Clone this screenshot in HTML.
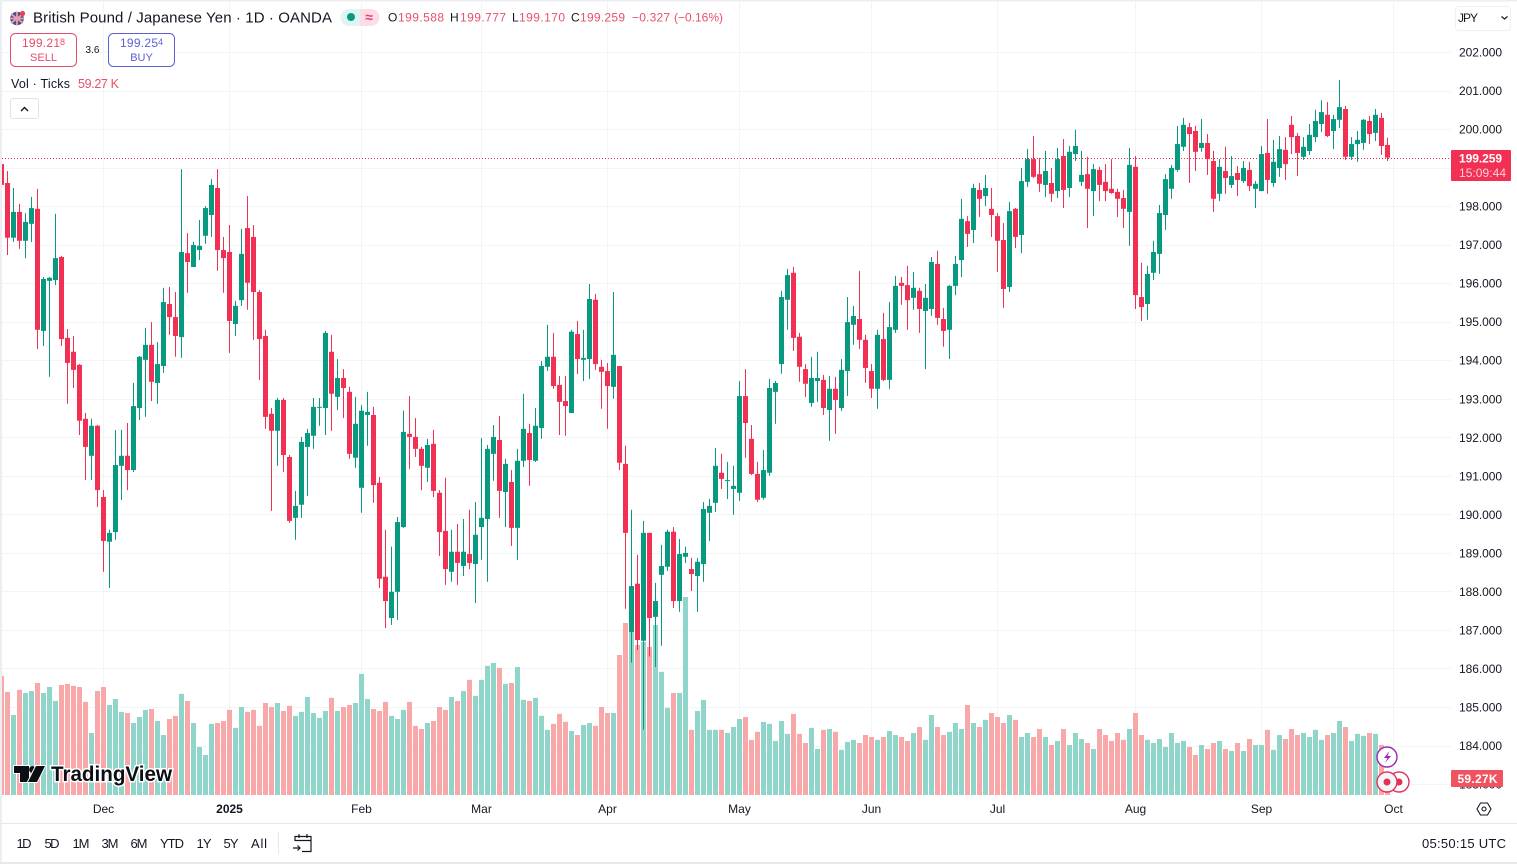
<!DOCTYPE html>
<html lang="en">
<head>
<meta charset="utf-8">
<title>GBP/JPY chart</title>
<style>
html,body{margin:0;padding:0;background:#fff;width:1517px;height:864px;overflow:hidden}
svg{display:block;font-family:"Liberation Sans",sans-serif}
text{fill:#131722}
.t12{font-size:12px}
.r{fill:#e8506c}
</style>
</head>
<body>
<svg id="chart" xmlns="http://www.w3.org/2000/svg" width="1517" height="864" viewBox="0 0 1517 864">
  <rect x="0" y="0" width="1517" height="864" fill="#ffffff"/>
  <g id="grid"></g>
  <g id="volumes"></g>
  <line x1="2" x2="1451" y1="158.5" y2="158.5" stroke="#e02c55" stroke-width="1" stroke-dasharray="1 2"/>
  <g id="candles"></g>
  <rect x="1451" y="0" width="66" height="795" fill="#ffffff"/>
  <g id="price-ticks"></g>
  <g id="time-ticks"></g>

  <g>
    <circle cx="17" cy="18.5" r="6.8" fill="#4a4f86"/>
    <path d="M11 14 L23 23 M23 14 L11 23 M17 12 V25 M10.5 18.5 H23.5" stroke="#e8a0b0" stroke-width="1.8"/>
    <circle cx="22.5" cy="13.5" r="2.6" fill="#e8405a"/>
  </g>
  <text x="33" y="22.5" font-size="15" textLength="299">British Pound / Japanese Yen · 1D · OANDA</text>
  <g>
    <path d="M349 9 H360 V26 H349 A8.5 8.5 0 0 1 349 9 Z" fill="#dff5f1"/>
    <path d="M360 9 H371 A8.5 8.5 0 0 1 371 26 H360 Z" fill="#fcdde6"/>
    <circle cx="351" cy="17" r="4" fill="#089981"/>
    <text x="369" y="22" font-size="14" font-weight="bold" text-anchor="middle" style="fill:#ee3a72">≈</text>
  </g>
  <g font-size="12">
    <text x="388" y="21.5" textLength="9">O</text>
    <text x="398" y="21.5" class="r" textLength="46">199.588</text>
    <text x="450" y="21.5" textLength="9">H</text>
    <text x="460" y="21.5" class="r" textLength="46">199.777</text>
    <text x="512" y="21.5" textLength="7">L</text>
    <text x="519" y="21.5" class="r" textLength="46">199.170</text>
    <text x="571" y="21.5" textLength="8">C</text>
    <text x="580" y="21.5" class="r" textLength="45">199.259</text>
    <text x="632" y="21.5" class="r" textLength="38">−0.327</text>
    <text x="674" y="21.5" class="r" textLength="49">(−0.16%)</text>
  </g>
  <g>
    <rect x="10.5" y="33.5" width="66" height="33" rx="5" fill="#fff" stroke="#e64c68"/>
    <text x="22" y="47" font-size="12" style="fill:#e64c68" textLength="38">199.21</text>
    <text x="60" y="45" font-size="9" style="fill:#e64c68">8</text>
    <text x="43.5" y="61" font-size="11" text-anchor="middle" style="fill:#e64c68">SELL</text>
  </g>
  <text x="92.5" y="53" font-size="10" text-anchor="middle">3.6</text>
  <g>
    <rect x="108.5" y="33.5" width="66" height="33" rx="5" fill="#fff" stroke="#5c5fd6"/>
    <text x="120" y="47" font-size="12" style="fill:#5c5fd6" textLength="38">199.25</text>
    <text x="158" y="45" font-size="9" style="fill:#5c5fd6">4</text>
    <text x="141.5" y="61" font-size="11" text-anchor="middle" style="fill:#5c5fd6">BUY</text>
  </g>
  <text x="11" y="88" font-size="12.5" textLength="59">Vol · Ticks</text>
  <text x="78" y="88" font-size="12.5" class="r" textLength="41">59.27 K</text>
  <g>
    <rect x="10.5" y="98.5" width="28" height="20" rx="2.5" fill="#fff" stroke="#e0e3eb"/>
    <path d="M21 111 L24.5 107.5 L28 111" fill="none" stroke="#131722" stroke-width="1.4"/>
  </g>
  <g>
    <rect x="1455.5" y="6.5" width="55" height="24" rx="3" fill="#fff" stroke="#eef0f3"/>
    <text x="1458" y="22" font-size="12" textLength="20">JPY</text>
    <path d="M1501.5 16.5 L1504.5 19 L1507.5 16.5" fill="none" stroke="#131722" stroke-width="1.2"/>
  </g>
  <g>
    <rect x="1451" y="150" width="60" height="31" rx="1" fill="#f23054"/>
    <text x="1480.5" y="162.5" font-size="12" font-weight="bold" text-anchor="middle" style="fill:#fff" textLength="43">199.259</text>
    <text x="1482.5" y="177" font-size="12" text-anchor="middle" style="fill:#fbd0d8" textLength="47">15:09:44</text>
  </g>
  <g>
    <rect x="1451" y="770" width="52" height="17" rx="1" fill="#f0535f"/>
    <text x="1477.5" y="783" font-size="12" font-weight="bold" text-anchor="middle" style="fill:#fff" textLength="40">59.27K</text>
  </g>
  <g>
    <path d="M14 766 H29 V782 H20 V773 H14 Z" fill="#0c0e15" stroke="#fff" stroke-width="2" paint-order="stroke"/>
    <circle cx="32.5" cy="769.5" r="3.4" fill="#0c0e15"/>
    <path d="M36 766 H45 L37 782 H28 Z" fill="#0c0e15" stroke="#fff" stroke-width="2" paint-order="stroke"/>
    <text x="51" y="781" font-size="21" font-weight="bold" textLength="121" lengthAdjust="spacingAndGlyphs" style="fill:#0c0e15;stroke:#fff;stroke-width:3px;paint-order:stroke">TradingView</text>
  </g>
  <g>
    <circle cx="1399" cy="782" r="10" fill="#fff" stroke="#e0335a" stroke-width="1.4"/>
    <circle cx="1399" cy="782" r="3.5" fill="#e0335a"/>
  </g>
  <g>
    <circle cx="1387" cy="782" r="10" fill="#f5f5f5" stroke="#e0335a" stroke-width="1.4"/>
    <circle cx="1387" cy="782" r="3.5" fill="#e0335a"/>
  </g>
  <g>
    <circle cx="1387" cy="757" r="10" fill="#fff" stroke="#9c27b0" stroke-width="1.4"/>
    <path d="M1389.5 751 L1384 758 H1387.5 L1385 763 L1391 756 H1387.5 Z" fill="#9c27b0"/>
  </g>
  <g>
    <path d="M1477 809 L1480.5 803 H1487.5 L1491 809 L1487.5 815 H1480.5 Z" fill="none" stroke="#131722" stroke-width="1.1"/>
    <circle cx="1484" cy="809" r="2" fill="none" stroke="#131722" stroke-width="1.1"/>
  </g>
  <rect x="0" y="0" width="2" height="864" fill="#eceef1"/>
  <rect x="0" y="0" width="1517" height="1.5" fill="#eceef1"/>
  <rect x="0" y="823" width="1517" height="1" fill="#e6e8ec"/>
  <rect x="0" y="862" width="1517" height="2" fill="#e6e8ec"/>
  <g font-size="13" text-anchor="middle">
    <text x="24" y="848" textLength="15">1D</text>
    <text x="52" y="848" textLength="15">5D</text>
    <text x="81" y="848" textLength="17">1M</text>
    <text x="110" y="848" textLength="17">3M</text>
    <text x="139" y="848" textLength="17">6M</text>
    <text x="172" y="848" textLength="24">YTD</text>
    <text x="204" y="848" textLength="15">1Y</text>
    <text x="231" y="848" textLength="15">5Y</text>
    <text x="259" y="848" textLength="16">All</text>
  </g>
  <rect x="278" y="832" width="1" height="22" fill="#e6e8ec"/>
  <g fill="none" stroke="#131722" stroke-width="1.2">
    <path d="M295 841 V836.5 H311 V851.5 H302 M295 840.5 H311 M299 834 V838 M307 834 V838"/>
    <path d="M293 848 H300 M297.5 845.5 L300 848 L297.5 850.5"/>
  </g>
  <text x="1422" y="848" font-size="13" textLength="84">05:50:15 UTC</text>
</svg>
<script>
const priceTicks = [202,201,200,199,198,197,196,195,194,193,192,191,190,189,188,187,186,185,184,183];
const timeLabels = ["Dec","2025","Feb","Mar","Apr","May","Jun","Jul","Aug","Sep","Oct"];
const timeBars = [17,38,60,80,101,123,145,166,189,210,232];
const opens = [
199.09,198.60,197.18,197.85,197.10,197.54,197.93,194.76,196.06,196.08,
196.68,194.58,194.22,193.88,192.48,191.52,192.30,190.45,189.29,189.54,
191.26,191.52,191.15,192.76,194.01,194.40,193.41,193.85,195.46,195.12,
194.60,196.78,196.42,196.86,197.23,197.77,198.47,196.86,196.81,194.94,
195.56,197.43,197.20,195.77,194.63,192.61,192.17,192.97,191.49,189.91,
190.25,191.75,192.04,192.77,192.76,194.22,193.05,193.54,193.18,191.47,
190.69,192.58,192.58,190.82,188.38,187.31,187.99,189.67,192.09,192.01,
191.70,191.21,191.83,190.56,189.57,188.51,189.03,188.66,188.97,188.71,
189.67,189.88,191.57,191.93,190.58,190.84,189.65,191.39,192.11,191.39,
192.24,193.83,194.09,193.36,192.94,192.63,194.68,194.01,194.03,195.57,
193.83,193.72,193.31,193.85,191.31,186.95,188.20,186.72,189.52,187.34,
188.43,188.64,189.55,187.75,188.90,188.58,188.40,188.71,190.04,190.30,
191.08,190.87,190.66,190.56,193.07,191.96,191.05,190.43,191.08,193.18,
193.90,195.57,196.27,194.61,193.77,192.89,193.46,193.49,192.71,193.26,
192.76,193.72,194.92,195.07,194.53,193.72,193.26,194.55,193.49,194.79,
196.01,195.95,195.62,195.80,195.28,195.33,196.50,195.07,194.79,195.93,
196.60,197.61,197.38,198.42,198.26,197.93,197.74,197.12,195.90,197.93,
197.25,198.63,199.22,198.83,198.55,198.60,198.39,199.30,198.47,199.35,
198.63,198.83,198.39,198.94,198.63,198.45,198.37,198.21,197.85,199.02,
195.64,195.46,196.27,196.76,197.77,198.45,198.94,199.54,200.05,199.95,
199.51,199.64,199.17,198.32,198.91,198.55,198.86,198.65,198.94,198.45,
198.39,199.38,198.60,198.99,199.46,200.11,199.82,199.28,199.43,199.79,
200.13,200.37,199.95,200.24,200.52,199.28,199.61,199.64,200.21,199.90,200.29,199.588];
const highs = [
199.09,198.91,198.47,198.06,197.82,198.24,198.45,196.16,196.16,197.80,
196.71,194.81,194.63,193.90,192.63,192.48,192.32,190.63,189.60,192.19,
192.19,192.37,193.41,194.11,194.84,194.99,194.47,195.88,195.90,195.77,
198.96,197.30,197.07,197.64,198.00,198.70,198.96,197.20,197.51,195.54,
197.41,198.26,197.51,195.82,194.79,192.76,193.02,193.02,191.54,190.61,
192.01,192.22,193.02,193.02,194.76,194.66,194.03,193.77,193.31,193.05,
192.84,193.18,192.79,190.97,189.60,189.16,189.93,192.69,193.07,192.50,
191.75,191.96,192.19,190.63,190.95,189.60,189.75,189.88,190.12,190.32,
191.98,191.80,192.32,192.55,191.44,191.15,191.70,193.13,192.35,192.76,
193.98,194.92,194.71,193.59,193.59,194.79,195.02,194.79,195.98,195.72,
194.01,193.93,195.77,193.85,191.78,190.12,188.95,189.83,189.52,188.22,
189.21,189.60,189.67,189.36,189.16,188.87,188.87,190.32,190.40,191.72,
191.57,191.36,191.26,193.46,193.77,192.32,191.36,191.67,193.52,193.46,
195.80,196.37,196.42,194.71,193.90,194.09,194.22,193.62,193.59,193.57,
194.03,195.64,195.41,196.32,194.66,193.90,194.79,195.23,195.51,196.19,
196.16,196.45,196.29,195.88,195.98,196.68,196.84,195.36,195.95,196.71,
198.19,197.74,198.58,198.60,198.81,198.47,197.82,197.56,198.11,197.95,
198.99,199.48,199.82,199.25,199.43,198.99,199.51,199.74,199.56,199.98,
199.43,199.28,199.09,199.02,199.09,199.22,198.45,198.42,199.51,199.30,
196.53,196.45,197.10,198.03,198.83,199.07,200.08,200.29,200.16,200.08,
200.26,199.87,199.43,199.22,199.54,199.30,199.04,199.17,199.15,198.65,
199.56,200.26,199.72,199.82,199.79,200.34,199.90,199.79,200.13,200.50,
200.75,200.70,200.37,201.27,200.60,199.79,199.95,200.26,200.34,200.52,200.42,199.777];
const lows = [
198.55,196.73,197.07,196.89,196.65,197.07,194.29,194.37,193.57,195.95,
194.37,192.87,193.28,192.06,190.89,190.89,190.19,188.51,188.09,189.34,
190.37,190.63,191.10,192.45,192.53,192.94,192.87,193.67,194.66,194.09,
194.06,195.75,196.42,196.60,197.02,197.20,196.32,195.75,194.19,194.63,
195.41,195.31,194.53,193.49,192.22,190.09,191.26,191.10,189.78,189.34,
189.91,190.48,191.70,192.30,192.06,192.17,192.71,192.50,191.44,191.21,
190.04,191.78,190.30,188.09,187.05,187.13,187.26,189.65,191.18,191.49,
190.63,190.84,190.45,188.92,188.17,188.25,188.17,188.40,188.58,187.70,
188.82,188.25,190.87,189.91,189.67,189.18,188.82,191.23,190.74,191.36,
191.96,193.72,193.26,192.06,192.04,192.63,193.64,193.46,193.51,193.75,
192.74,192.22,193.00,191.15,187.55,186.15,186.48,184.41,186.31,186.04,
186.59,188.53,187.57,187.47,188.74,188.01,187.47,188.25,189.31,190.06,
190.66,190.40,189.99,190.35,191.47,191.02,190.32,190.38,191.00,192.35,
193.65,194.79,194.24,193.44,193.05,192.79,192.92,192.58,191.91,192.09,
192.68,193.07,194.40,194.29,193.41,193.02,192.74,193.46,193.26,194.71,
195.44,194.79,195.31,194.71,193.77,195.15,194.92,194.35,194.03,195.69,
196.16,196.94,197.04,197.72,198.00,197.20,196.29,195.36,195.77,196.91,
196.78,198.50,198.73,198.37,198.24,198.11,198.21,197.95,198.24,199.17,
198.52,197.43,197.74,198.13,198.13,198.32,197.72,197.43,196.97,195.33,
195.02,195.05,196.08,196.24,197.38,198.19,198.89,199.43,198.60,198.91,
199.41,198.81,197.85,198.13,198.32,198.47,198.26,198.60,198.39,197.95,
198.39,198.32,198.50,198.76,198.68,199.35,198.78,199.20,199.33,199.66,
199.92,199.79,199.48,200.03,199.20,199.20,199.15,199.46,199.61,199.69,199.33,199.170];
const closes = [
198.55,197.18,197.85,197.10,197.59,197.95,194.79,196.11,196.14,196.65,
194.55,193.93,193.75,192.43,191.75,192.30,190.63,189.31,189.52,191.28,
191.52,191.15,192.81,194.09,194.40,193.44,193.90,195.51,195.12,194.63,
196.81,196.55,196.99,196.97,197.95,198.55,196.86,196.65,195.02,195.41,
196.76,196.01,195.77,194.55,192.53,192.17,192.97,191.54,189.83,190.22,
191.88,192.11,192.79,192.79,194.71,193.13,193.54,193.28,191.57,192.35,
192.69,192.66,190.76,188.33,187.75,187.99,189.80,192.14,192.01,191.70,
191.26,191.80,190.61,189.54,188.58,189.03,188.74,189.03,188.74,189.47,
189.91,191.70,192.01,190.61,191.31,189.65,191.39,192.22,191.41,192.30,
193.85,194.09,193.33,192.92,192.81,194.74,194.03,194.06,195.59,193.90,
193.70,193.33,194.14,191.34,189.52,188.14,186.74,189.52,187.31,187.75,
188.66,189.55,187.75,188.97,189.00,188.45,188.77,190.14,190.22,191.26,
190.92,190.89,190.74,193.07,192.37,191.05,190.38,191.15,193.28,193.41,
195.64,196.21,194.58,193.83,193.39,193.54,193.54,192.76,193.26,192.97,
193.75,194.99,195.15,194.53,193.80,193.26,194.66,193.49,194.86,195.93,
195.93,195.56,195.88,195.33,195.62,196.55,195.10,194.76,195.93,196.50,
197.67,197.28,198.47,198.19,198.47,197.77,197.10,195.85,197.87,197.20,
198.65,199.22,198.76,198.58,198.91,198.32,199.22,198.42,199.41,199.56,
198.81,198.45,198.96,198.55,198.39,198.34,198.19,197.93,199.07,195.69,
195.38,196.24,196.81,197.82,198.70,198.99,199.61,200.11,199.87,199.41,
199.64,199.22,198.19,199.02,198.73,198.78,198.68,198.99,198.52,198.58,
199.35,198.68,199.15,199.48,199.09,199.79,199.38,199.54,199.85,200.21,
200.44,199.82,200.26,200.57,199.28,199.61,199.72,200.24,199.87,200.37,199.56,199.259];
const volumes = [
417,361,280,368,357,364,392,357,378,329,
385,389,382,378,326,217,364,378,315,336,
291,287,252,273,298,301,259,210,266,277,
354,329,252,168,140,249,252,259,298,235,
308,291,298,242,322,308,322,294,312,277,
291,343,287,270,294,340,294,308,315,322,
424,336,301,294,326,277,266,298,326,242,
231,252,259,308,298,343,329,364,403,347,
403,452,462,445,389,392,448,333,329,340,
277,228,249,284,256,224,210,245,252,242,
308,287,287,490,602,578,525,536,518,595,
431,305,357,357,693,228,294,333,228,228,
228,217,238,266,273,193,221,256,249,189,
259,214,284,214,182,235,161,228,231,221,
158,186,193,182,210,203,193,203,224,210,
203,189,217,238,193,280,238,210,221,252,
231,315,252,238,263,287,273,252,280,263,
203,217,203,231,203,175,189,231,175,217,
196,182,161,231,210,189,217,193,231,287,
210,193,182,196,168,217,182,189,168,140,
175,161,182,189,161,154,182,154,196,175,
175,228,158,210,196,231,210,217,203,228,
193,210,217,259,238,189,214,207,217,214,175,59.27];

const NS = "http://www.w3.org/2000/svg";
const UP = "#089981", DOWN = "#f23054", VOL_UP = "#90d5c9", VOL_DOWN = "#f9a8aa", GRID = "#f3f4f6";
function xScale(i){ return 1.5 + 6 * i; }
function yScale(p){ return 52 + (202 - p) * 38.53; }
function volHeight(v){ return v / 3.5; }
const VOL_BASE = 795;

const gridG = document.getElementById("grid");
const volG = document.getElementById("volumes");
const candleG = document.getElementById("candles");
const priceG = document.getElementById("price-ticks");
const timeG = document.getElementById("time-ticks");

function mk(tag, attrs){
  const el = document.createElementNS(NS, tag);
  for (const k in attrs) el.setAttribute(k, attrs[k]);
  return el;
}

priceTicks.forEach(function(p){
  const y = Math.round(yScale(p)) + 0.5;
  const ln = mk("line", {x1:2, x2:1451, y1:y, y2:y, stroke:GRID, "stroke-width":1});
  
  
  gridG.appendChild(ln);
  const t = mk("text", {x:1459, y:yScale(p) + 4.5, "font-size":12, textLength:43});
  
  
  t.textContent = p.toFixed(3);
  priceG.appendChild(t);
});

timeLabels.forEach(function(lbl, k){
  const x = xScale(timeBars[k]);
  const ln = mk("line", {x1:x, x2:x, y1:2, y2:795, stroke:GRID, "stroke-width":1});
  
  
  gridG.appendChild(ln);
  const t = mk("text", {x:x, y:813, "font-size":12, "text-anchor":"middle"});
  if (lbl === "2025") t.setAttribute("font-weight", "bold");
  
  
  t.textContent = lbl;
  timeG.appendChild(t);
});

closes.forEach(function(c, i){
  const up = c >= opens[i];
  const x = xScale(i);
  const h = volHeight(volumes[i]);
  const bar = mk("rect", {x:x - 2.5, y:VOL_BASE - h, width:5, height:h, fill: up ? VOL_UP : VOL_DOWN});
  
  
  volG.appendChild(bar);
  const col = up ? UP : DOWN;
  const wick = mk("rect", {x:x - 0.5, y:yScale(highs[i]), width:1, height:Math.max(1, yScale(lows[i]) - yScale(highs[i])), fill:col});
  
  
  candleG.appendChild(wick);
  const top = yScale(Math.max(opens[i], c));
  const bot = yScale(Math.min(opens[i], c));
  const body = mk("rect", {x:x - 2.5, y:top, width:5, height:Math.max(1, bot - top), fill:col});
  
  
  candleG.appendChild(body);
});
</script>
</body>
</html>
